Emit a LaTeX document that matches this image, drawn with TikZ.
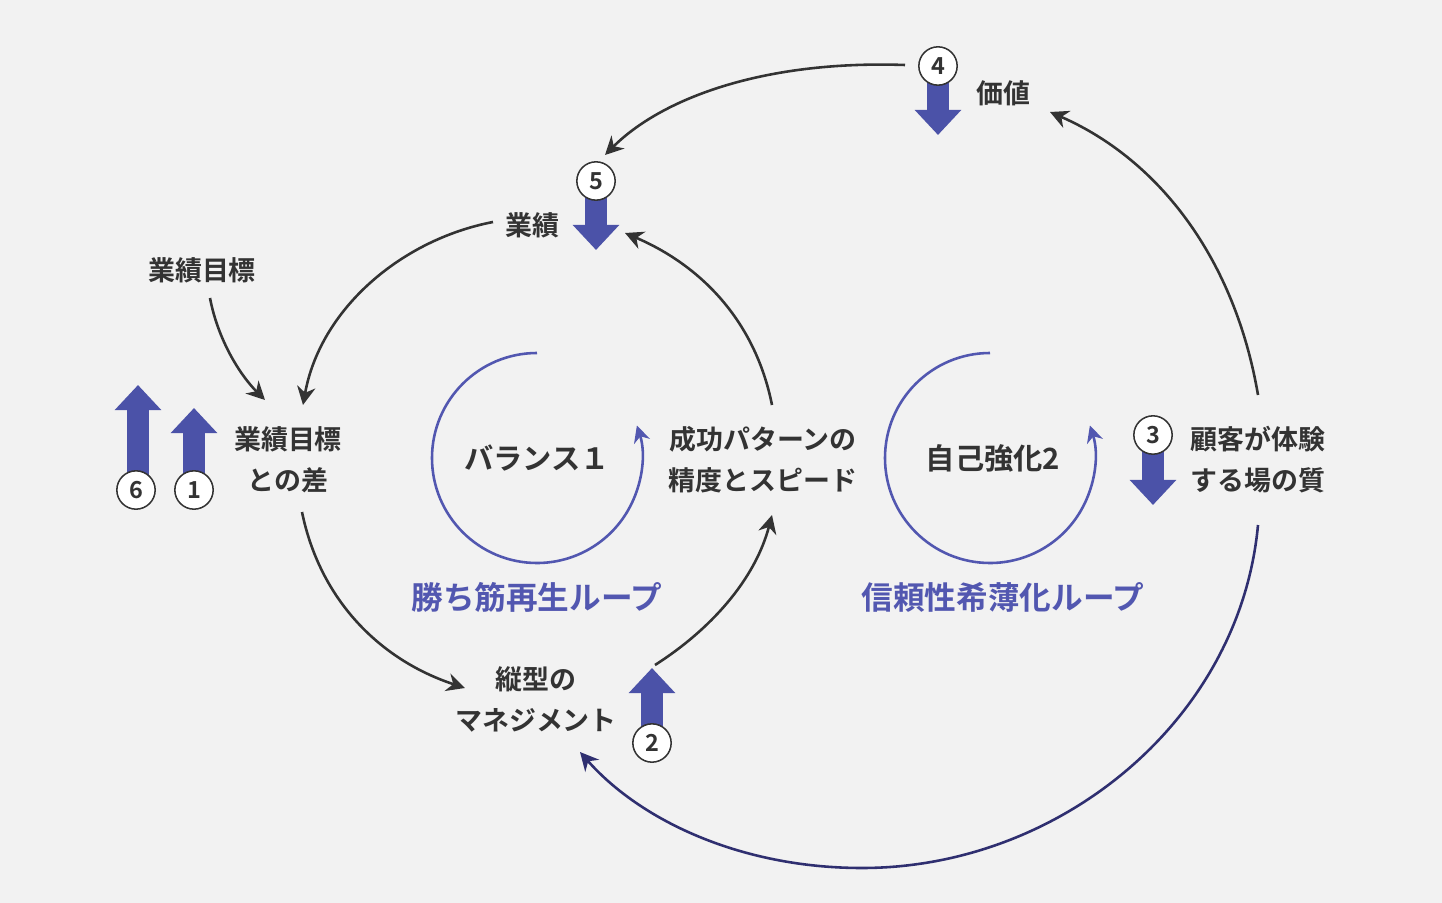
\documentclass[tikz,border=0pt]{standalone}
\usepackage{fontspec}
\setmainfont{Noto Sans CJK JP}[BoldFont=Noto Sans CJK JP Bold]
\usetikzlibrary{arrows.meta}
\definecolor{bg}{HTML}{F2F2F2}
\definecolor{ink}{HTML}{333333}
\definecolor{blu}{HTML}{4B52A8}
\definecolor{loopc}{HTML}{5257B0}
\definecolor{navy}{HTML}{2F2F70}
\tikzset{
 lbl/.style={text=ink,font=\bfseries\fontsize{23pt}{35pt}\selectfont,align=center,inner sep=0},
 looplbl/.style={text=loopc,font=\bfseries\fontsize{27pt}{30pt}\selectfont,inner sep=0},
 mid/.style={text=ink,font=\bfseries\fontsize{25pt}{30pt}\selectfont,inner sep=0},
 num/.style={circle,draw=ink,line width=1.3pt,fill=white,minimum size=1.15cm,inner sep=0,text=ink,font=\bfseries\fontsize{20pt}{22pt}\selectfont},
 con/.style={draw=ink,line width=2.2pt,-{Stealth[length=0.55cm,width=0.55cm]}},
 bigarrow/.style={blu,line width=0.66cm,-{Triangle[length=0.75cm,width=1.35cm]}},
 loop/.style={draw=loopc,line width=2.2pt,-{Stealth[length=0.5cm,width=0.5cm]}}
}
\begin{document}
\begin{tikzpicture}[x=0.03cm,y=-0.03cm]
\fill[bg] (0,0) rectangle (1442,903);
\useasboundingbox (0,0) rectangle (1442,903);
% labels
\node[lbl] (kachi) at (1003,93) {価値};
\node[lbl] (gyo) at (532,225) {業績};
\node[lbl] (mok) at (202,270) {業績目標};
\node[lbl] (sa) at (288,460) {業績目標\\との差};
\node[lbl] (sei) at (763,460) {成功パターンの\\精度とスピード};
\node[lbl] (kok) at (1258,460) {顧客が体験\\する場の質};
\node[lbl] (tat) at (536,699) {縦型の\\マネジメント};
\node[mid] (b1) at (537,458) {バランス１};
\node[mid] (b2) at (993,458) {自己強化2};
\node[looplbl] (l1) at (537,597) {勝ち筋再生ループ};
\node[looplbl] (l2) at (1003,597) {信頼性希薄化ループ};
% big arrows
\draw[bigarrow] (938,80) -- (938,135);
\draw[bigarrow] (596,195) -- (596,250);
\draw[bigarrow] (1153,450) -- (1153,505);
\draw[bigarrow] (652,740) -- (652,668);
\draw[bigarrow] (138,480) -- (138,385);
\draw[bigarrow] (194,480) -- (194,408);
% numbers
\node[num] (n4) at (938,66) {4};
\node[num] (n5) at (596,181) {5};
\node[num] (n3) at (1153,435) {3};
\node[num] (n2) at (652,743) {2};
\node[num] (n6) at (136,490) {6};
\node[num] (n1) at (194,490) {1};
% loops
\coordinate (c1) at (537,458);
\coordinate (c2) at (990,458);
\draw[loop] (537,353) arc[start angle=90,end angle=378,radius=3.15cm];
\draw[loop] (990,353) arc[start angle=90,end angle=378,radius=3.15cm];
% connectors
\coordinate (a1) at (905,65);
\draw[con] (a1) .. controls (760,60) and (660,100) .. (605,155);
\draw[con] (493,222) .. controls (400,240) and (320,310) .. (303,405);
\draw[con] (210,298) .. controls (218,340) and (240,375) .. (265,400);
\draw[con] (302,512) .. controls (320,600) and (380,660) .. (465,688);
\draw[con] (655,665) .. controls (710,630) and (755,580) .. (772,515);
\draw[con] (772,405) .. controls (755,320) and (700,265) .. (625,233);
\draw[con] (1258,395) .. controls (1235,260) and (1160,160) .. (1050,112);
\draw[draw=navy,line width=2.2pt,-{Stealth[length=0.55cm,width=0.55cm]}] (1258,525) .. controls (1240,720) and (1060,868) .. (862,868) .. controls (740,868) and (640,820) .. (580,752);
\end{tikzpicture}
\end{document}
